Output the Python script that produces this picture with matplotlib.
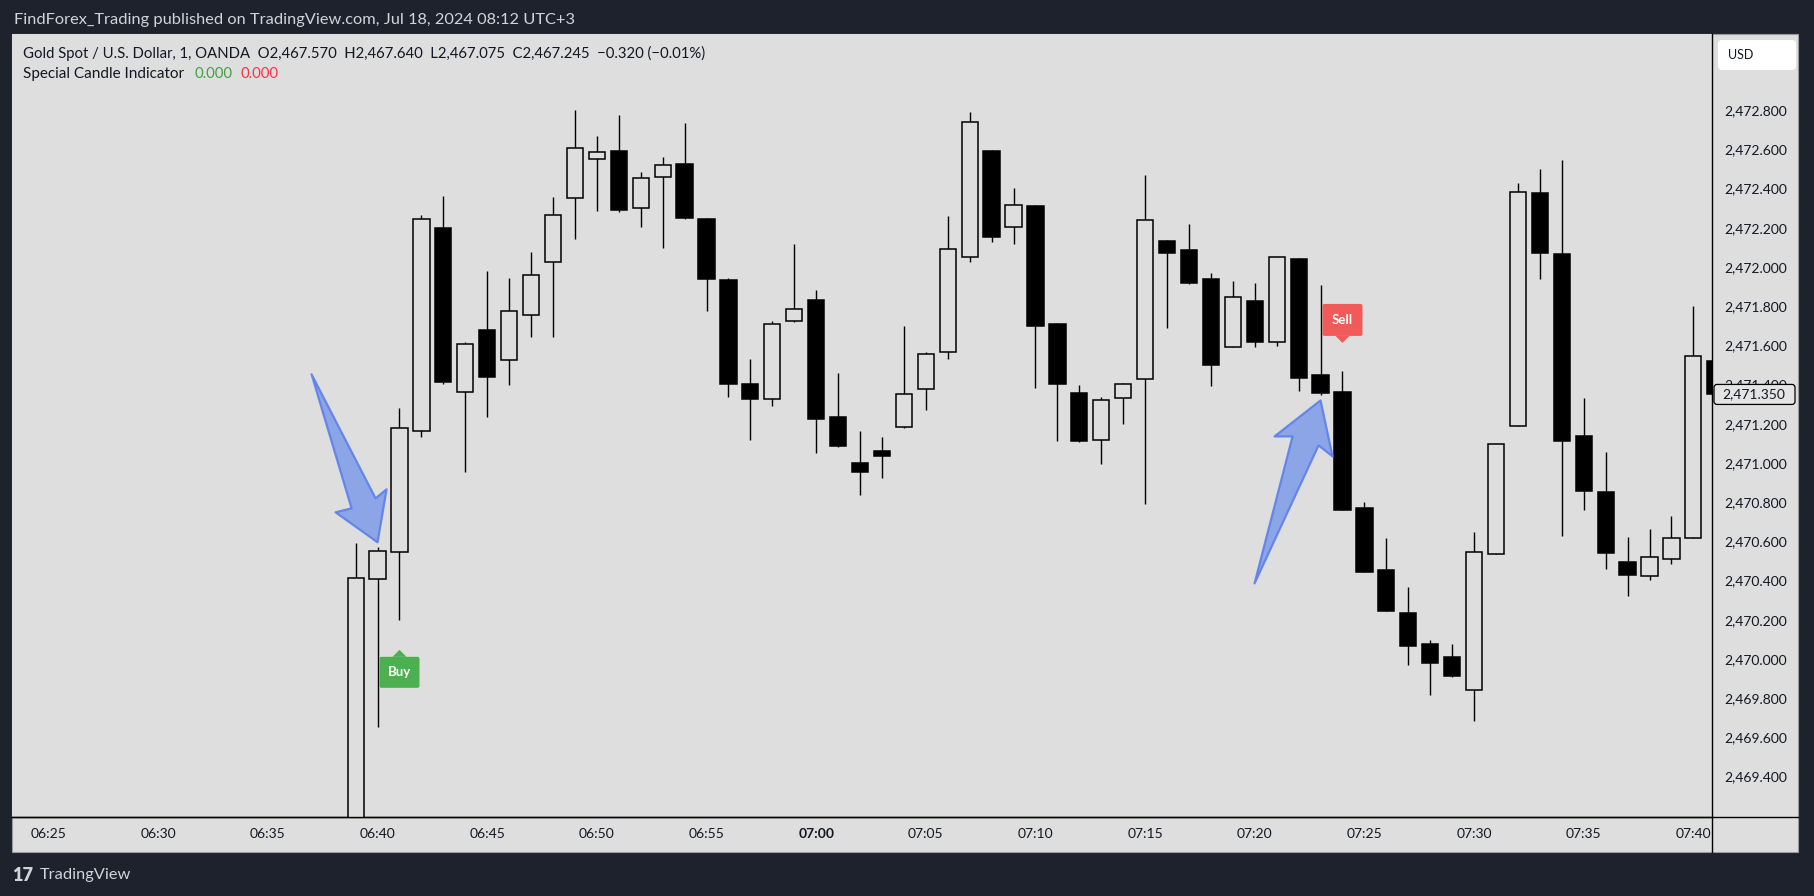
import matplotlib
matplotlib.use("Agg")
import matplotlib.pyplot as plt
import numpy as np
import pandas as pd
from matplotlib.patches import Rectangle, Polygon, FancyBboxPatch
from matplotlib.lines import Line2D
from matplotlib.transforms import IdentityTransform

plt.rcParams['font.family'] = ['Lato', 'DejaVu Sans']

# 1-minute candles, 06:39 .. 07:41
opens = [2469.000, 2470.410, 2470.545, 2471.165, 2472.200, 2471.360, 2471.680, 2471.525,
         2471.755, 2472.025, 2472.350, 2472.550, 2472.590, 2472.300, 2472.460, 2472.525,
         2472.245, 2471.935, 2471.405, 2471.325, 2471.725, 2471.830, 2471.235, 2471.000,
         2471.060, 2471.185, 2471.380, 2471.565, 2472.050, 2472.590, 2472.205, 2472.310,
         2471.710, 2471.355, 2471.115, 2471.330, 2471.430, 2472.135, 2472.085, 2471.940,
         2471.590, 2471.825, 2471.620, 2472.040, 2471.450, 2471.360, 2470.770, 2470.455,
         2470.235, 2470.075, 2470.010, 2469.840, 2470.535, 2471.190, 2472.380, 2472.065,
         2471.140, 2470.850, 2470.495, 2470.425, 2470.510, 2470.620, 2471.520]
highs = [2470.590, 2470.570, 2471.280, 2472.265, 2472.360, 2471.615, 2471.980, 2471.945,
         2472.075, 2472.355, 2472.800, 2472.670, 2472.775, 2472.485, 2472.560, 2472.735,
         2472.250, 2471.945, 2471.530, 2471.725, 2472.120, 2471.885, 2471.460, 2471.165,
         2471.135, 2471.700, 2471.565, 2472.260, 2472.790, 2472.595, 2472.405, 2472.315,
         2471.715, 2471.400, 2471.335, 2471.410, 2472.470, 2472.140, 2472.220, 2471.970,
         2471.930, 2471.920, 2472.050, 2472.045, 2471.910, 2471.470, 2470.800, 2470.620,
         2470.370, 2470.095, 2470.075, 2470.650, 2471.095, 2472.430, 2472.500, 2472.545,
         2471.330, 2471.055, 2470.625, 2470.665, 2470.730, 2471.800, 2471.560]
lows = [2468.900, 2469.655, 2470.200, 2471.135, 2471.405, 2470.955, 2471.235, 2471.400,
        2471.645, 2471.645, 2472.145, 2472.285, 2472.280, 2472.205, 2472.095, 2472.245,
        2471.775, 2471.335, 2471.115, 2471.290, 2471.720, 2471.050, 2471.080, 2470.835,
        2470.925, 2471.180, 2471.270, 2471.530, 2472.025, 2472.130, 2472.115, 2471.385,
        2471.110, 2471.105, 2470.995, 2471.200, 2470.790, 2471.690, 2471.915, 2471.395,
        2471.590, 2471.590, 2471.595, 2471.365, 2471.345, 2470.760, 2470.445, 2470.245,
        2469.970, 2469.815, 2469.910, 2469.685, 2470.535, 2471.190, 2471.940, 2470.630,
        2470.760, 2470.460, 2470.320, 2470.405, 2470.485, 2470.620, 2471.300]
closes = [2470.415, 2470.550, 2471.180, 2472.245, 2471.415, 2471.605, 2471.440, 2471.775,
          2471.960, 2472.265, 2472.605, 2472.585, 2472.290, 2472.455, 2472.520, 2472.250,
          2471.940, 2471.405, 2471.325, 2471.710, 2471.785, 2471.225, 2471.085, 2470.955,
          2471.035, 2471.350, 2471.555, 2472.090, 2472.740, 2472.155, 2472.315, 2471.700,
          2471.405, 2471.110, 2471.320, 2471.405, 2472.240, 2472.070, 2471.920, 2471.500,
          2471.845, 2471.615, 2472.050, 2471.435, 2471.355, 2470.760, 2470.445, 2470.245,
          2470.065, 2469.980, 2469.915, 2470.545, 2471.095, 2472.385, 2472.070, 2471.110,
          2470.855, 2470.540, 2470.430, 2470.520, 2470.615, 2471.545, 2471.350]

time_labels = ["06:25", "06:30", "06:35", "06:40", "06:45", "06:50", "06:55", "07:00",
               "07:05", "07:10", "07:15", "07:20", "07:25", "07:30", "07:35", "07:40"]
price_ticks = [2469.4, 2469.6, 2469.8, 2470.0, 2470.2, 2470.4, 2470.6, 2470.8, 2471.0,
               2471.2, 2471.4, 2471.6, 2471.8, 2472.0, 2472.2, 2472.4, 2472.6, 2472.8]
last_price = 2471.350
buy_idx, sell_idx = 2, 45
arrow_idx = [1, 44]

day = pd.Timestamp("2024-07-18 06:00")
times = pd.date_range("2024-07-18 06:39", periods=len(opens), freq="min")
x = ((times - day).total_seconds() / 60).to_numpy()
tick_x = [(pd.Timestamp("2024-07-18 " + t) - day).total_seconds() / 60 for t in time_labels]

W, H = 1815, 896
BG = '#dedede'
DARK = '#1e222d'
TXT = '#131722'

fig = plt.figure(figsize=(W / 100, H / 100), dpi=100)
fig.patch.set_facecolor(DARK)


def fx(px):
    return px / W


def fy(py):
    return 1 - py / H


# light chart panel
fig.add_artist(Rectangle((fx(12), fy(852)), fx(1798) - fx(12), fy(34) - fy(852),
                         transform=fig.transFigure, fc=BG, ec='#9a9a9a', lw=0.8, zorder=-10))

ax = fig.add_axes([fx(12), fy(817), fx(1712) - fx(12), fy(34) - fy(817)])
ax.set_facecolor(BG)

o = np.array(opens); h = np.array(highs); l = np.array(lows); c = np.array(closes)
up = c >= o
ax.vlines(x, l, h, color='black', lw=1.0, zorder=2)
ax.bar(x, np.abs(c - o), bottom=np.minimum(o, c), width=0.74,
       color=np.where(up, BG, 'black'), edgecolor='black', linewidth=1.1, zorder=3)

ax.set_xlim(23.33, 100.85)
ax.set_ylim(2469.194, 2473.189)

for s in ['left', 'top']:
    ax.spines[s].set_visible(False)
for s in ['right', 'bottom']:
    ax.spines[s].set_color('black')
    ax.spines[s].set_linewidth(1.0)

ax.yaxis.tick_right()
ax.set_yticks(price_ticks)
ax.set_yticklabels([f"{p:,.3f}" for p in price_ticks])
ax.tick_params(axis='y', length=0, pad=9, labelsize=10, labelcolor=TXT)
ax.set_xticks(tick_x)
ax.set_xticklabels(time_labels)
ax.tick_params(axis='x', length=0, pad=8, labelsize=10, labelcolor=TXT)
for t in ax.get_xticklabels():
    if t.get_text() == "07:00":
        t.set_fontweight('bold')

# separators continuing into the axis strips
fig.add_artist(Line2D([fx(12), fx(1798)], [fy(817), fy(817)], color='black', lw=1.0,
                      transform=fig.transFigure))
fig.add_artist(Line2D([fx(1712), fx(1712)], [fy(817), fy(852)], color='black', lw=1.0,
                      transform=fig.transFigure))

px = IdentityTransform()


def to_px(xd, yd):
    return ax.transData.transform((xd, yd))


# last price tag
_, ly = to_px(x[-1], last_price)
fig.add_artist(FancyBboxPatch((1714, ly - 10), 81, 20, boxstyle='round,pad=0,rounding_size=3',
                              transform=px, fc='#e4e4e4', ec='black', lw=0.9, zorder=6))
fig.text(fx(1754), ly / H, f"{last_price:,.3f}", ha='center', va='center',
         fontsize=10, color=TXT, zorder=7)

# USD button
fig.add_artist(FancyBboxPatch((1718, H - 70), 78, 30, boxstyle='round,pad=0,rounding_size=4',
                              transform=px, fc='white', ec='none', zorder=6))
fig.text(fx(1728), fy(55), "USD", ha='left', va='center', fontsize=9, color=TXT, zorder=7)

# header / legend / footer
fig.text(fx(14), fy(20), "FindForex_Trading published on TradingView.com, Jul 18, 2024 08:12 UTC+3",
         ha='left', va='center', fontsize=11.8, color='#d1d4dc')
fig.text(fx(23), fy(53), "Gold Spot / U.S. Dollar, 1, OANDA  O2,467.570  H2,467.640  "
         "L2,467.075  C2,467.245  \u22120.320 (\u22120.01%)",
         ha='left', va='center', fontsize=10.7, color=TXT)
fig.text(fx(23), fy(74), "Special Candle Indicator", ha='left', va='center', fontsize=11, color=TXT)
fig.text(fx(195), fy(74), "0.000", ha='left', va='center', fontsize=10.7, color='#43a047')
fig.text(fx(241), fy(74), "0.000", ha='left', va='center', fontsize=10.7, color='#f23645')
fig.text(fx(12), fy(875), "17", ha='left', va='center', fontsize=13, fontweight='heavy', color='#d1d4dc')
fig.text(fx(40), fy(875), "TradingView", ha='left', va='center', fontsize=11.8, color='#d1d4dc')

# Buy / Sell markers
bx, by = to_px(x[buy_idx], lows[buy_idx])
fig.add_artist(Polygon([(bx - 7, by - 37), (bx, by - 30), (bx + 7, by - 37)], closed=True,
                       transform=px, fc='#4caf50', ec='none', zorder=6))
fig.add_artist(FancyBboxPatch((bx - 20, by - 68), 40, 31, boxstyle='round,pad=0,rounding_size=2',
                              transform=px, fc='#4caf50', ec='none', zorder=6))
fig.text(bx / W, (by - 52.5) / H, "Buy", ha='center', va='center', fontsize=9.5,
         fontweight='bold', color='white', zorder=7)

sx, sy = to_px(x[sell_idx], highs[sell_idx])
fig.add_artist(Polygon([(sx - 7, sy + 35), (sx, sy + 28), (sx + 7, sy + 35)], closed=True,
                       transform=px, fc='#f25a5a', ec='none', zorder=6))
fig.add_artist(FancyBboxPatch((sx - 20, sy + 35), 40, 32, boxstyle='round,pad=0,rounding_size=2',
                              transform=px, fc='#f25a5a', ec='none', zorder=6))
fig.text(sx / W, (sy + 51) / H, "Sell", ha='center', va='center', fontsize=9.5,
         fontweight='bold', color='white', zorder=7)

# hand-drawn blue arrows (offsets in screen pixels, y pointing down)
shape1 = [(-66, -168), (-2, -44), (9, -53), (0, 0), (-42, -30), (-26, -34)]
shape2 = [(0, 0), (12, 56), (-2, 45), (-66, 183), (-28, 36), (-46, 36)]
ax1, ay1 = to_px(x[arrow_idx[0]], highs[arrow_idx[0]])
ay1 += 5
ax2, ay2 = to_px(x[arrow_idx[1]], lows[arrow_idx[1]])
ay2 -= 5
for (tx, ty), shape in [((ax1, ay1), shape1), ((ax2, ay2), shape2)]:
    pts = [(tx + dx, ty - dy) for dx, dy in shape]
    fig.add_artist(Polygon(pts, closed=True, transform=px, fc=(0.42, 0.56, 0.92, 0.72),
                           ec=(0.36, 0.5, 0.92, 0.9), lw=1.6, joinstyle='round', zorder=5))

fig.savefig("out.png", dpi=100, facecolor=fig.get_facecolor())
